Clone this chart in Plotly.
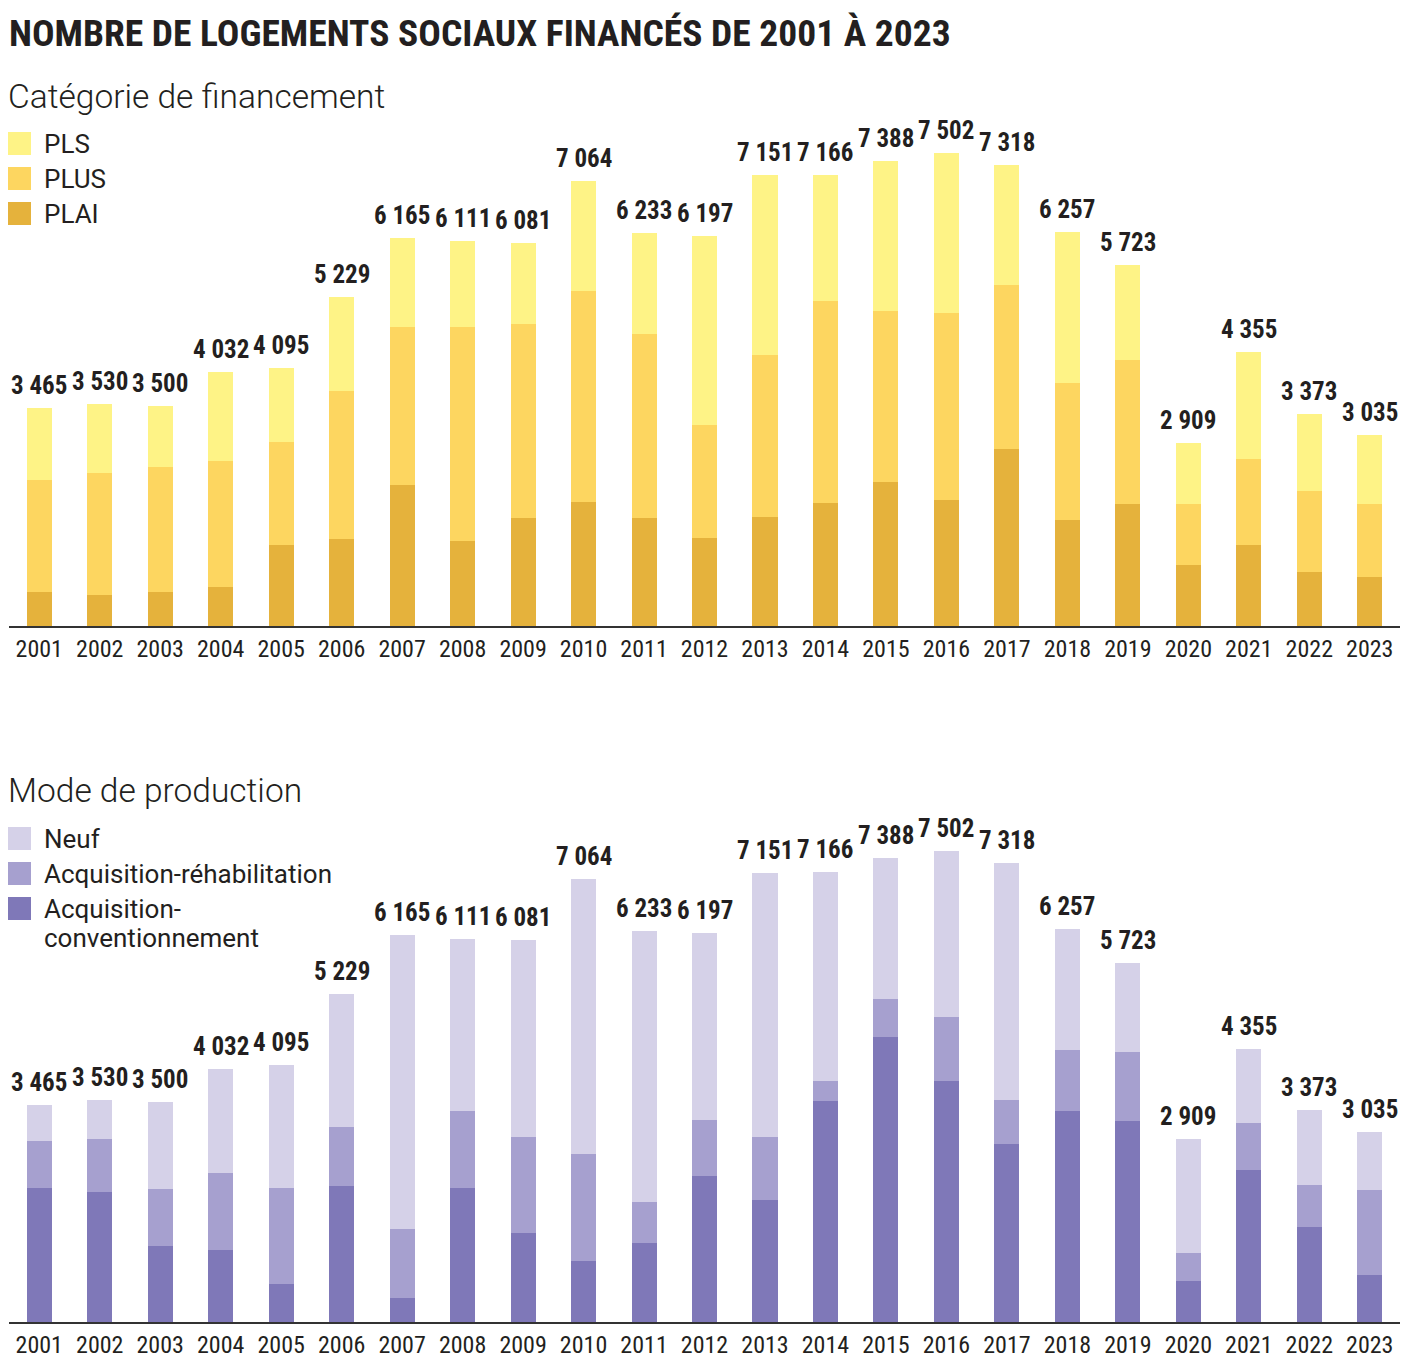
import plotly.graph_objects as go

years = [str(y) for y in range(2001, 2024)]
totals = [3465, 3530, 3500, 4032, 4095, 5229, 6165, 6111, 6081, 7064, 6233, 6197,
          7151, 7166, 7388, 7502, 7318, 6257, 5723, 2909, 4355, 3373, 3035]

# Catégorie de financement
plai = [546, 498, 546, 625, 1293, 1388, 2246, 1357, 1722, 1974, 1722, 1400,
        1733, 1958, 2280, 2008, 2802, 1680, 1932, 974, 1291, 865, 782]
plus = [1775, 1934, 1981, 1998, 1631, 2342, 2499, 3396, 3079, 3347, 2907, 1792,
        2564, 3202, 2725, 2955, 2604, 2178, 2292, 969, 1352, 1285, 1161]
pls = [1144, 1098, 973, 1409, 1171, 1499, 1420, 1358, 1280, 1743, 1604, 3005,
       2854, 2006, 2383, 2539, 1912, 2399, 1499, 966, 1712, 1223, 1092]

# Mode de production
acq_conv = [2137, 2074, 1217, 1153, 598, 2174, 381, 2137, 1415, 978, 1256, 2322,
            1945, 3529, 4534, 3843, 2839, 3364, 3207, 658, 2426, 1512, 753]
acq_rehab = [746, 846, 910, 1228, 1544, 931, 1100, 1222, 1535, 1693, 662, 890,
             1005, 317, 612, 1010, 697, 965, 1094, 441, 742, 675, 1355]
neuf = [582, 610, 1373, 1651, 1953, 2124, 4684, 2752, 3131, 4393, 4315, 2985,
        4201, 3320, 2242, 2649, 3782, 1928, 1422, 1810, 1187, 1186, 927]

labels = [f"{v:,}".replace(",", " ") for v in totals]

C_PLS, C_PLUS, C_PLAI = "#FEF386", "#FDD660", "#E5B23C"
C_NEUF, C_REHAB, C_CONV = "#D5D1E8", "#A6A0CF", "#7F78B8"

COND = "Roboto Condensed, Liberation Sans Narrow, DejaVu Sans Condensed, Roboto, sans-serif"
REG = "Roboto, sans-serif"
OFF = 8  # page body margin
W, H = 1412 - OFF, 1370 - OFF


def px_x(x):
    return (x - OFF) / W


def px_y(y):
    return 1 - (y - OFF) / H


fig = go.Figure()


def add_bars(vals, name, color, xa, ya):
    fig.add_trace(go.Bar(x=years, y=vals, name=name, marker=dict(color=color, line=dict(width=0)),
                         xaxis=xa, yaxis=ya, showlegend=False, hoverinfo="x+y+name"))


add_bars(plai, "PLAI", C_PLAI, "x", "y")
add_bars(plus, "PLUS", C_PLUS, "x", "y")
add_bars(pls, "PLS", C_PLS, "x", "y")
add_bars(acq_conv, "Acquisition-conventionnement", C_CONV, "x2", "y2")
add_bars(acq_rehab, "Acquisition-réhabilitation", C_REHAB, "x2", "y2")
add_bars(neuf, "Neuf", C_NEUF, "x2", "y2")

axis_x = dict(type="category", range=[-0.5, 22.5], showgrid=False, zeroline=False,
              showline=True, linecolor="#333333", linewidth=2, ticks="", fixedrange=True,
              tickfont=dict(family=COND, size=24, color="#231f20"))
axis_y = dict(range=[0, 8000], showgrid=False, zeroline=False, showticklabels=False,
              showline=False, fixedrange=True)
xd = [px_x(9), px_x(1400)]

fig.update_layout(
    width=W, height=H, margin=dict(l=0, r=0, t=0, b=0),
    paper_bgcolor="white", plot_bgcolor="white",
    barmode="stack", bargap=0.586,
    xaxis=dict(axis_x, domain=xd, anchor="y"),
    yaxis=dict(axis_y, domain=[px_y(626), px_y(122)], anchor="x"),
    xaxis2=dict(axis_x, domain=xd, anchor="y2"),
    yaxis2=dict(axis_y, domain=[px_y(1322), px_y(820)], anchor="x2"),
    showlegend=False,
)

annotations = []
shapes = []

# value labels above each stacked bar (category index on the x axis, totals on the y axis)
for xr, yr in (("x", "y"), ("x2", "y2")):
    for i, (tot, lab) in enumerate(zip(totals, labels)):
        annotations.append(dict(text=lab, x=i, y=tot, xref=xr, yref=yr, xanchor="center",
                                yanchor="bottom", yshift=6, showarrow=False,
                                font=dict(family=COND, size=25, color="#231f20", weight="bold")))

annotations.append(dict(text="NOMBRE DE LOGEMENTS SOCIAUX FINANCÉS DE 2001 À 2023",
                        x=px_x(7), y=px_y(33), xref="paper", yref="paper", xanchor="left", yanchor="middle",
                        showarrow=False, font=dict(family=COND, size=37.5, color="#231f20", weight="bold")))
annotations.append(dict(text="Catégorie de financement", x=px_x(6), y=px_y(96), xref="paper", yref="paper",
                        xanchor="left", yanchor="middle", showarrow=False,
                        font=dict(family=REG, size=33.5, color="#231f20", weight=300)))
annotations.append(dict(text="Mode de production", x=px_x(6), y=px_y(790), xref="paper", yref="paper",
                        xanchor="left", yanchor="middle", showarrow=False,
                        font=dict(family=REG, size=33.5, color="#231f20", weight=300)))

legend_items = [
    ("PLS", C_PLS, 132), ("PLUS", C_PLUS, 167), ("PLAI", C_PLAI, 202),
    ("Neuf", C_NEUF, 827), ("Acquisition-réhabilitation", C_REHAB, 862),
    ("Acquisition-", C_CONV, 897),
]
for txt, col, top in legend_items:
    shapes.append(dict(type="rect", xref="paper", yref="paper", x0=px_x(8), x1=px_x(31),
                       y0=px_y(top + 23), y1=px_y(top), fillcolor=col, line=dict(width=0)))
    annotations.append(dict(text=txt, x=px_x(42), y=px_y(top + 11.5), xref="paper", yref="paper",
                            xanchor="left", yanchor="middle", align="left", showarrow=False,
                            font=dict(family=REG, size=26, color="#231f20")))
annotations.append(dict(text="conventionnement", x=px_x(42), y=px_y(938), xref="paper", yref="paper",
                        xanchor="left", yanchor="middle", align="left", showarrow=False,
                        font=dict(family=REG, size=26, color="#231f20")))

fig.update_layout(annotations=annotations, shapes=shapes)
fig.write_html("out.html")
